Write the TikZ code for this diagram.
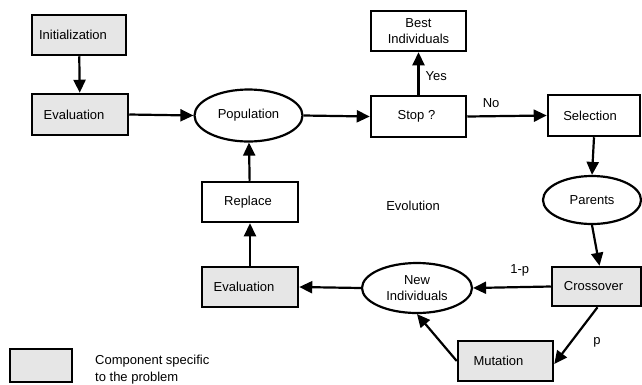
\documentclass[tikz,border=0pt]{standalone}
\usepackage{fontspec}
\setmainfont{Liberation Sans}
\usetikzlibrary{arrows.meta,shapes.geometric}
\definecolor{boxgray}{HTML}{E6E6E6}
\tikzset{
  base/.style={draw=black, line width=2.5pt, inner sep=0pt, font=\fontsize{13}{15}\selectfont},
  wbox/.style={base, rectangle, fill=white, minimum width=95pt, minimum height=40pt},
  gbox/.style={base, rectangle, fill=boxgray, minimum width=95pt, minimum height=40pt},
  oval/.style={base, line width=2.2pt, ellipse, fill=white},
  lbl/.style={font=\fontsize{13}{15}\selectfont, inner sep=0pt},
  arr/.style={line width=2.2pt, -{Triangle[length=13pt,width=12pt]}},
}
\begin{document}
\begin{tikzpicture}[x=1pt,y=-1pt]
\useasboundingbox (0,0) rectangle (642,384);
\node[gbox, minimum width=94pt, label={[lbl,xshift=-6pt]center:Initialization}] (init) at (79,35) {};
\node[gbox, minimum width=96pt, minimum height=41pt, label={[lbl,xshift=-6pt]center:Evaluation}] (eval1) at (80,114.5) {};
\node[oval, minimum width=108pt, minimum height=52pt] (pop) at (248.5,115.5) {Population};
\node[wbox, minimum height=41pt, label={[lbl,xshift=-2pt]center:Stop ?}] (stop) at (418.5,116.5) {};
\node[wbox, align=center] (best) at (418.5,31) {Best\\[1pt]Individuals};
\node[wbox, minimum width=92pt, minimum height=41pt, label={[lbl,xshift=-4pt]center:Selection}] (sel) at (594,115.5) {};
\node[oval, minimum width=98pt, minimum height=48pt] (par) at (592,200) {Parents};
\node[gbox, minimum width=89pt, minimum height=39pt, label={[lbl,xshift=-3pt]center:Crossover}] (cross) at (596.5,286.5) {};
\node[oval, minimum width=110pt, minimum height=50pt, align=center] (newi) at (417,288) {New\\[1pt]Individuals};
\node[gbox, label={[lbl,xshift=-7pt]center:Mutation}] (mut) at (505.5,361) {};
\node[gbox, minimum width=96pt, label={[lbl,xshift=-6pt]center:Evaluation}] (eval2) at (250,287) {};
\node[wbox, minimum width=96pt, label={[lbl,xshift=-2pt]center:Replace}] (repl) at (250,202) {};
\node[gbox, minimum width=62pt, minimum height=33pt] (leg) at (41,365.5) {};
\node[lbl, anchor=west, align=left] (legtxt) at (95,369.5) {Component specific\\[2pt]to the problem};
\node[lbl] (evo) at (413,206) {Evolution};

\draw[arr] (init) -- (eval1);
\draw[arr] (eval1.east) -- (pop.west);
\draw[arr] (pop.east) -- (stop.west);
\draw[arr] (stop) -- node[lbl, right=6pt, pos=0.45] (yes) {Yes} (best);
\draw[arr] (stop.east) -- node[lbl, above=7pt, pos=0.3] (no) {No} (sel.west);
\draw[arr] (sel.south) -- (par.north);
\draw[arr] (par.south) -- ([xshift=3pt]cross.north);
\draw[arr] (cross.west) -- node[lbl, above=10pt, pos=0.4] (omp) {1-p} (newi.east);
\draw[arr] ([xshift=1pt]cross.south) -- ([yshift=-3pt]mut.east);
\node[lbl] (plbl) at (597,342) {p};
\draw[arr] (mut.west) -- (newi.south);
\draw[arr] (newi.west) -- (eval2.east);
\draw[arr] (eval2) -- (repl);
\draw[arr] (repl) -- (pop);
\end{tikzpicture}
\end{document}
